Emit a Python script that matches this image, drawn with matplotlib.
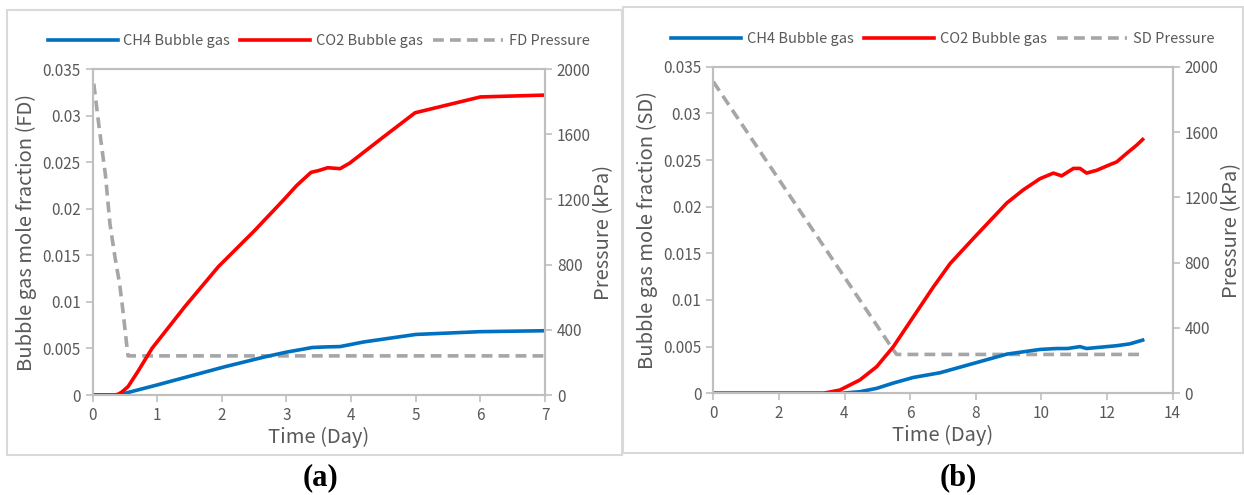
import matplotlib.pyplot as plt
from matplotlib.patches import Rectangle
from matplotlib.ticker import FuncFormatter

plt.rcParams['font.family'] = ['Noto Sans CJK SC', 'DejaVu Sans']
plt.rcParams['font.weight'] = 'light'

# ---- panel (a): FD ----
fd_ch4_t = [0, 0.40, 1.0, 2.05, 2.67, 3.0, 3.4, 3.6, 3.83, 4.2, 5.0, 6.0, 7.0]
fd_ch4 = [0, 0, 0.00108, 0.00304, 0.0041, 0.0046, 0.0051, 0.00516, 0.0052, 0.0057, 0.0065, 0.0068, 0.0069]

fd_co2_t = [0, 0.35, 0.40, 0.45, 0.55, 0.70, 0.92, 1.43, 1.95, 2.5, 2.95, 3.16, 3.38,
            3.5, 3.64, 3.83, 3.98, 4.5, 4.99, 6.0, 7.0]
fd_co2 = [0, 0, 0.0001, 0.0003, 0.0009, 0.0025, 0.005, 0.0095, 0.0138, 0.0176, 0.0209,
          0.0225, 0.0239, 0.0241, 0.0244, 0.0243, 0.0249, 0.0277, 0.0303, 0.0320, 0.0322]

fd_p_t = [0.02, 0.10, 0.20, 0.27, 0.35, 0.42, 0.47, 0.52, 0.55, 7.0]
fd_p = [1910, 1650, 1350, 1050, 840, 680, 520, 340, 240, 240]

# ---- panel (b): SD ----
sd_ch4_t = [0, 3.9, 4.47, 4.98, 5.49, 6.1, 6.91, 7.93, 8.95, 9.96, 10.47, 10.8, 11.18,
            11.38, 11.99, 12.3, 12.7, 13.09]
sd_ch4 = [0, 0, 0.00017, 0.00053, 0.0011, 0.0017, 0.0022, 0.0032, 0.0042, 0.0047, 0.0048,
          0.0048, 0.0050, 0.0048, 0.0050, 0.0051, 0.0053, 0.0057]

sd_co2_t = [0, 3.35, 3.86, 4.47, 4.98, 5.49, 6.10, 6.71, 7.22, 7.93, 8.95, 9.45, 9.96,
            10.37, 10.62, 10.98, 11.18, 11.38, 11.69, 12.09, 12.3, 12.6, 12.91, 13.09]
sd_co2 = [0, 0, 0.00035, 0.00143, 0.00285, 0.005, 0.0082, 0.0114, 0.0139, 0.0166, 0.0204,
          0.0218, 0.0230, 0.0236, 0.0233, 0.0241, 0.0241, 0.0236, 0.0239, 0.0245, 0.0248,
          0.0257, 0.0266, 0.0272]

sd_p_t = [0, 5.49, 5.59, 13.0]
sd_p = [1908, 265, 238, 238]

BLUE = '#0070c0'
RED = '#ff0000'
GRAY = '#a6a6a6'
SPINE = '#bfbfbf'
TXT = '#595959'

fig = plt.figure(figsize=(12.44, 4.95), dpi=100)
W, H = 1244, 495


def frac_box(x0, y0, x1, y1):
    return [x0 / W, 1 - y1 / H, (x1 - x0) / W, (y1 - y0) / H]


# panel frames
for x0, y0, x1, y1 in [(7, 10, 622, 455), (623, 7, 1243, 453)]:
    fig.patches.append(Rectangle((x0 / W, 1 - y1 / H), (x1 - x0) / W, (y1 - y0) / H,
                                 transform=fig.transFigure, fill=False,
                                 edgecolor='#d9d9d9', linewidth=1.5))


def make_panel(box, ch4, co2, pres, xmax, xstep, tag, plabel):
    ax = fig.add_axes(box)
    ax2 = ax.twinx()
    ax.set_zorder(ax2.get_zorder() + 1)
    ax.patch.set_visible(False)

    lp, = ax2.plot(pres[0], pres[1], color=GRAY, lw=2.6, dashes=(3, 1.7),
                   label=plabel)
    lb, = ax.plot(ch4[0], ch4[1], color=BLUE, lw=2.6, label='CH4 Bubble gas')
    lr, = ax.plot(co2[0], co2[1], color=RED, lw=2.6, label='CO2 Bubble gas')

    ax.set_xlim(0, xmax)
    ax.set_xticks(range(0, xmax + 1, xstep))
    ax.set_ylim(0, 0.035)
    ax.set_yticks([i * 0.005 for i in range(8)])
    ax.yaxis.set_major_formatter(FuncFormatter(lambda v, p: '{:g}'.format(round(v, 3))))
    ax2.set_ylim(0, 2000)
    ax2.set_yticks(range(0, 2001, 400))

    for a in (ax, ax2):
        for s in a.spines.values():
            s.set_color(SPINE)
            s.set_linewidth(1.5)
        a.tick_params(colors=SPINE, labelcolor=TXT, labelsize=11, length=5, width=1.2)

    ax.set_xlabel('Time (Day)', fontsize=14.5, color=TXT, labelpad=2)
    ax.set_ylabel('Bubble gas mole fraction (%s)' % tag, fontsize=14.5, color=TXT, labelpad=4)
    ax2.set_ylabel('Pressure (kPa)', fontsize=14.5, color=TXT, labelpad=2)

    ax.legend(handles=[lb, lr, lp], loc='center', bbox_to_anchor=(0.5, 1.085), ncol=3,
              frameon=False, fontsize=10.5, handlelength=4.8, handletextpad=0.4,
              columnspacing=0.7, labelcolor=TXT)
    return ax


make_panel(frac_box(92.5, 69, 545, 395), (fd_ch4_t, fd_ch4), (fd_co2_t, fd_co2),
           (fd_p_t, fd_p), 7, 1, 'FD', 'FD Pressure')
make_panel(frac_box(713.3, 66.7, 1172.5, 393.3), (sd_ch4_t, sd_ch4), (sd_co2_t, sd_co2),
           (sd_p_t, sd_p), 14, 2, 'SD', 'SD Pressure')

fig.text(321 / W, 1 - 478 / H, '(a)', ha='center', va='center', fontsize=22,
         fontweight='bold', family='Liberation Serif')
fig.text(958 / W, 1 - 478 / H, '(b)', ha='center', va='center', fontsize=22,
         fontweight='bold', family='Liberation Serif')

fig.savefig('out.png', dpi=100)
